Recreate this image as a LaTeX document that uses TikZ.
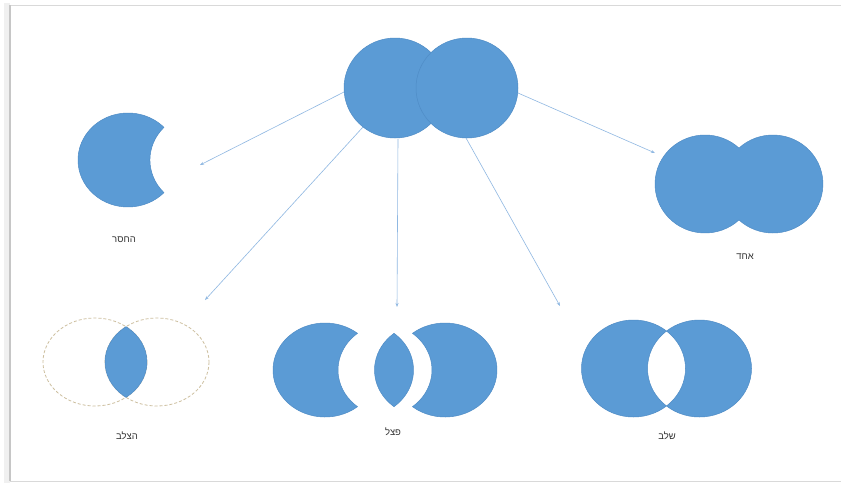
\documentclass[tikz,border=0pt]{standalone}
\usepackage{fontspec}
\newfontfamily\hebfont[Script=Hebrew]{Liberation Sans}
\TeXXeTstate=1
\usetikzlibrary{arrows.meta}
\definecolor{shapeblue}{HTML}{5B9BD5}
\definecolor{shapeline}{HTML}{4F8CC6}
\definecolor{arrowblue}{HTML}{8FB8E2}
\definecolor{dashcol}{HTML}{CDBF9F}
\definecolor{framecol}{HTML}{D9D9D9}
\definecolor{labelcol}{HTML}{333333}
\tikzset{
  blob/.style={fill=shapeblue, draw=shapeline, line width=0.5pt},
  link/.style={draw=arrowblue, line width=0.6pt, -{Stealth[length=4pt,width=3pt]}},
  lbl/.style={font=\hebfont\fontsize{9.5}{11}\selectfont, text=labelcol, inner sep=0pt},
  ghost/.style={draw=dashcol, line width=0.8pt, dash pattern=on 3pt off 2pt}
}
\begin{document}
\begin{tikzpicture}[x=1pt,y=-1pt]
\useasboundingbox (0,0) rectangle (841,483);
% frame with shadow
\fill[white] (0,0) rectangle (841,483);
\fill[gray!12] (4,3) rectangle (10,483);
\draw[framecol, line width=0.8pt] (842,5) -- (10,5) -- (10,481) -- (842,481);
\draw[gray!45, line width=1.2pt] (10,5) -- (10,481);

% top shape: two overlapping circles
\path[blob] (395,88) ellipse [x radius=51, y radius=50];
\path[blob] (467,88) ellipse [x radius=51, y radius=50];
\coordinate (src1) at (344,92);
\coordinate (src2) at (363,127);
\coordinate (src3) at (398,139);
\coordinate (src4) at (466,138);
\coordinate (src5) at (518,93);

% subtract (left)
\path[blob] (128,160) ++(44:50 and 47)
  arc[start angle=44, end angle=316, x radius=50, y radius=47]
  arc[start angle=224, end angle=136, x radius=50, y radius=47] -- cycle;
\coordinate (dst1) at (200,165);
\node[lbl] (l1) at (124,240) {\beginR החסר\endR};

% union (right)
\path[blob] (705,184) ++(47.2:50 and 49)
  arc[start angle=47.2, end angle=312.8, x radius=50, y radius=49]
  arc[start angle=227.2, end angle=492.8, x radius=50, y radius=49] -- cycle;
\coordinate (dst5) at (655,153);
\node[lbl] (l5) at (745,257) {\beginR אחד\endR};

% intersect (bottom left)
\path[ghost] (95,362) ellipse [x radius=52, y radius=44];
\path[ghost] (157,362) ellipse [x radius=52, y radius=44];
\path[blob] (95,362) ++(-53.4:52 and 44)
  arc[start angle=-53.4, end angle=53.4, x radius=52, y radius=44]
  arc[start angle=126.6, end angle=233.4, x radius=52, y radius=44] -- cycle;
\coordinate (dst2) at (205,300);
\node[lbl] (l2) at (127,436) {\beginR הצלב\endR};

% fragment (bottom middle)
\path[blob] (325,370) ++(51.3:52 and 47)
  arc[start angle=51.3, end angle=308.7, x radius=52, y radius=47]
  arc[start angle=231.3, end angle=128.7, x radius=52, y radius=47] -- cycle;
\path[blob] (361.5,370) ++(-51.3:52 and 47)
  arc[start angle=-51.3, end angle=51.3, x radius=52, y radius=47]
  arc[start angle=128.7, end angle=231.3, x radius=52, y radius=47] -- cycle;
\path[blob] (445,370) ++(128.7:52 and 47)
  arc[start angle=128.7, end angle=-128.7, x radius=52, y radius=47]
  arc[start angle=-51.3, end angle=51.3, x radius=52, y radius=47] -- cycle;
\coordinate (dst3) at (397,307);
\node[lbl] (l3) at (393,432) {\beginR פצל\endR};

% combine (bottom right)
\path[blob, even odd rule] (633.5,368.5) ellipse [x radius=52, y radius=48.5]
  (699.5,368.5) ellipse [x radius=52, y radius=48.5];
\coordinate (dst4) at (560,306);
\node[lbl] (l4) at (667,436) {\beginR שלב\endR};

% connectors
\draw[link] (src1) -- (dst1);
\draw[link] (src2) -- (dst2);
\draw[link] (src3) -- (dst3);
\draw[link] (src4) -- (dst4);
\draw[link] (src5) -- (dst5);
\end{tikzpicture}
\end{document}
